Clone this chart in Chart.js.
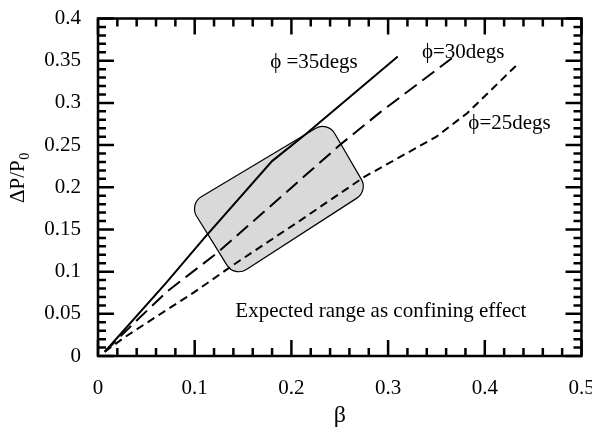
<!DOCTYPE html>
<html>
<head>
<meta charset="utf-8">
<script src="https://cdn.jsdelivr.net/npm/chart.js@4.4.0/dist/chart.umd.min.js"></script>
<style>
html,body{margin:0;padding:0;background:#fff;}
#wrap{width:592px;height:430px;position:relative;}
</style>
</head>
<body>
<div id="wrap"><canvas id="c"></canvas></div>
<script>
// ---- data ----
const beta35 = [0.007, 0.07, 0.11, 0.18, 0.215, 0.31];
const dp35   = [0.005, 0.086, 0.14, 0.231, 0.263, 0.355];

const beta30 = [0.007, 0.04, 0.071, 0.123, 0.147, 0.25, 0.292, 0.366];
const dp30   = [0.005, 0.042, 0.076, 0.122, 0.146, 0.25, 0.289, 0.353];

const beta25 = [0.007, 0.026, 0.05, 0.1, 0.14, 0.207, 0.275, 0.35, 0.382, 0.435];
const dp25   = [0.005, 0.021, 0.039, 0.076, 0.108, 0.159, 0.212, 0.26, 0.288, 0.347];

// shaded "expected range" region (corner points, beta / dP/P0)
const rangeBeta = [0.0942, 0.2374, 0.2793, 0.1411];
const rangeDp   = [0.180, 0.2783, 0.1957, 0.0934];

const xTicks = [0, 0.1, 0.2, 0.3, 0.4, 0.5];
const yTicks = [0, 0.05, 0.1, 0.15, 0.2, 0.25, 0.3, 0.35, 0.4];

const seriesLabels = ['\u03D5 =35degs', '\u03D5=30degs', '\u03D5=25degs'];
const noteText = 'Expected range as confining effect';

// ---- styling / layout ----
const FONT = '"Liberation Serif", "Times New Roman", serif';
const labelAnchors = [
  {x: 0.178, y: 0.3413},
  {x: 0.335, y: 0.3533},
  {x: 0.383, y: 0.2685}
];
const noteAnchor = {x: 0.142, y: 0.0467};

function pts(xs, ys){ return xs.map((v,i)=>({x:v, y:ys[i]})); }

const decor = {
  id: 'decor',
  beforeDatasetsDraw(chart){
    const ctx = chart.ctx, xs = chart.scales.x, ys = chart.scales.y;
    const P = rangeBeta.map((b,i)=>[xs.getPixelForValue(b), ys.getPixelForValue(rangeDp[i])]);
    const r = 14;
    ctx.save();
    ctx.beginPath();
    const m0 = [(P[3][0]+P[0][0])/2, (P[3][1]+P[0][1])/2];
    ctx.moveTo(m0[0], m0[1]);
    for (let i=0;i<4;i++){
      const a = P[i], b = P[(i+1)%4];
      ctx.arcTo(a[0], a[1], b[0], b[1], r);
    }
    ctx.closePath();
    ctx.fillStyle = '#d9d9d9';
    ctx.fill();
    ctx.lineWidth = 1.2;
    ctx.strokeStyle = '#000';
    ctx.stroke();
    ctx.restore();
  },
  afterDatasetsDraw(chart){
    const ctx = chart.ctx, xs = chart.scales.x, ys = chart.scales.y;
    const a = chart.chartArea;
    ctx.save();
    ctx.strokeStyle = '#000';
    ctx.lineWidth = 2.5;
    ctx.lineCap = 'butt';
    // ticks
    const major = 16, minor = 8;
    ctx.beginPath();
    for (let i=0;i<=25;i++){
      const v = i*0.02;
      const px = xs.getPixelForValue(v);
      const len = (i%5===0) ? major : minor;
      ctx.moveTo(px, a.bottom); ctx.lineTo(px, a.bottom-len);
      ctx.moveTo(px, a.top); ctx.lineTo(px, a.top+len);
    }
    for (let i=0;i<=40;i++){
      const v = i*0.01;
      const py = ys.getPixelForValue(v);
      const len = (i%5===0) ? major : minor;
      ctx.moveTo(a.left, py); ctx.lineTo(a.left+len, py);
      ctx.moveTo(a.right, py); ctx.lineTo(a.right-len, py);
    }
    ctx.stroke();
    // frame
    ctx.strokeRect(a.left, a.top, a.right-a.left, a.bottom-a.top);

    // annotation texts
    ctx.fillStyle = '#000';
    ctx.font = '21px ' + FONT;
    ctx.textAlign = 'left';
    ctx.textBaseline = 'alphabetic';
    seriesLabels.forEach((t,i)=>{
      ctx.fillText(t, xs.getPixelForValue(labelAnchors[i].x), ys.getPixelForValue(labelAnchors[i].y));
    });
    ctx.fillText(noteText, xs.getPixelForValue(noteAnchor.x), ys.getPixelForValue(noteAnchor.y));

    // y axis title with subscript
    ctx.translate(24, 203);
    ctx.rotate(-Math.PI/2);
    ctx.font = '21px ' + FONT;
    const main = '\u0394P/P';
    ctx.fillText(main, 0, 0);
    const w = ctx.measureText(main).width;
    ctx.font = '14px ' + FONT;
    ctx.fillText('0', w + 0.5, 5);
    ctx.restore();
  }
};

function noPad(s){ s.paddingLeft = 0; s.paddingRight = 0; s.paddingTop = 0; s.paddingBottom = 0; }

new Chart(document.getElementById('c'), {
  type: 'line',
  data: {
    datasets: [
      {label: seriesLabels[0], data: pts(beta35, dp35), borderColor:'#000', borderWidth:2, pointRadius:0, tension:0, fill:false},
      {label: seriesLabels[1], data: pts(beta30, dp30), borderColor:'#000', borderWidth:2, pointRadius:0, tension:0, fill:false, borderDash:[15,7]},
      {label: seriesLabels[2], data: pts(beta25, dp25), borderColor:'#000', borderWidth:2, pointRadius:0, tension:0, fill:false, borderDash:[8,5]}
    ]
  },
  options: {
    responsive: true,
    maintainAspectRatio: false,
    animation: false,
    layout: {padding: {top: 18.5, right: 10.5, left: 0, bottom: 0}},
    plugins: {legend: {display:false}, tooltip: {enabled:false}},
    scales: {
      x: {
        type: 'linear', min: 0, max: 0.5,
        afterBuildTicks: s => { s.ticks = xTicks.map(v=>({value:v})); },
        afterFit: s => { s.height = 74; noPad(s); },
        grid: {display:false, drawTicks:false},
        border: {display:false},
        ticks: {color:'#000', font:{family:FONT, size:21}, padding:20, maxRotation:0, autoSkip:false,
                callback: v => String(Math.round(v*100)/100)},
        title: {display:true, text:'\u03B2', color:'#000', font:{family:FONT, size:24}, padding:{top:4, bottom:0}}
      },
      y: {
        type: 'linear', min: 0, max: 0.4,
        afterBuildTicks: s => { s.ticks = yTicks.map(v=>({value:v})); },
        afterFit: s => { s.width = 98; noPad(s); },
        grid: {display:false, drawTicks:false},
        border: {display:false},
        ticks: {color:'#000', font:{family:FONT, size:21}, padding:17, autoSkip:false,
                callback: v => String(Math.round(v*100)/100)}
      }
    }
  },
  plugins: [decor]
});
</script>
</body>
</html>
